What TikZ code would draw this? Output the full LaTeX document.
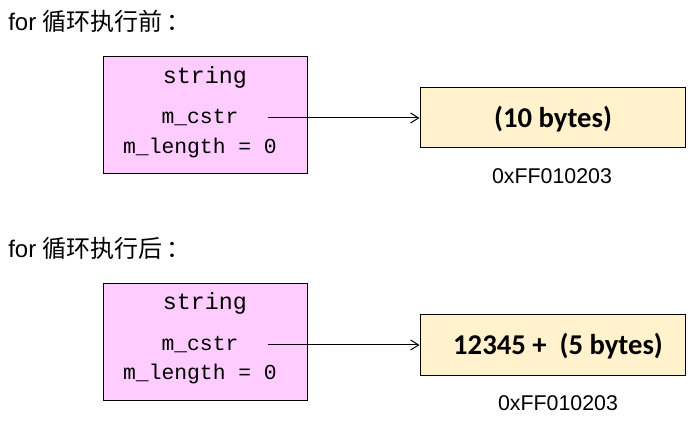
\documentclass[tikz,border=0pt]{standalone}
\usepackage{fontspec}
\setmainfont{Liberation Sans}
\newfontfamily\cjk{Noto Sans CJK SC}
\newfontfamily\codefont{Liberation Mono}
\newfontfamily\memfont{Carlito}
\usetikzlibrary{arrows.meta}
\definecolor{objpink}{HTML}{FFCCFF}
\definecolor{memtan}{HTML}{FFF2CC}
\tikzset{
  objbox/.style={draw, line width=0.75pt, fill=objpink, minimum width=153pt, minimum height=87.75pt, inner sep=0pt},
  membox/.style={draw, line width=0.75pt, fill=memtan, minimum width=198.75pt, minimum height=45pt, inner sep=0pt},
  heading/.style={anchor=west, inner sep=0pt, font=\fontsize{18}{21}\selectfont},
  typename/.style={inner sep=0pt, font=\codefont\fontsize{17.5}{20}\selectfont},
  member/.style={inner sep=0pt, font=\codefont\fontsize{16}{19}\selectfont},
  memtext/.style={inner sep=0pt, font=\memfont\bfseries\fontsize{21.5}{25}\selectfont},
  addr/.style={inner sep=0pt, font=\fontsize{16}{19}\selectfont},
  ptr/.style={line width=0.75pt, -{Straight Barb[length=6pt,width=7.5pt]}}
}
\begin{document}
\begin{tikzpicture}[x=0.75pt,y=-0.75pt]
  \useasboundingbox (0,0) rectangle (697,423);
  % before the loop
  \node[heading] (title1) at (8,21) {for {\cjk 循环执行前\hspace{3pt}：}};
  \node[objbox] (obj1) at (205,115.5) {};
  \node[typename] (type1) at (205,77) {string};
  \node[member] (cstr1) at (200,118) {m\_cstr};
  \node[member] (len1) at (200,148) {m\_length = 0};
  \node[membox] (mem1) at (552.5,118) {};
  \node[memtext] (buf1) at (553,119) {(10 bytes)};
  \node[addr] (addr1) at (552,176) {0xFF010203};
  \coordinate (p1) at (268,118);
  \draw[ptr] (p1) -- (mem1.west);
  % after the loop
  \node[heading] (title2) at (8,248) {for {\cjk 循环执行后\hspace{3pt}：}};
  \node[objbox] (obj2) at (205,342.5) {};
  \node[typename] (type2) at (205,303) {string};
  \node[member] (cstr2) at (200,345) {m\_cstr};
  \node[member] (len2) at (200,374) {m\_length = 0};
  \node[membox, minimum height=45.75pt] (mem2) at (552.5,345) {};
  \node[memtext] (buf2) at (558,346) {12345 +\ \ (5 bytes)};
  \node[addr] (addr2) at (558,403) {0xFF010203};
  \coordinate (p2) at (268,345);
  \draw[ptr] (p2) -- (mem2.west);
\end{tikzpicture}
\end{document}
